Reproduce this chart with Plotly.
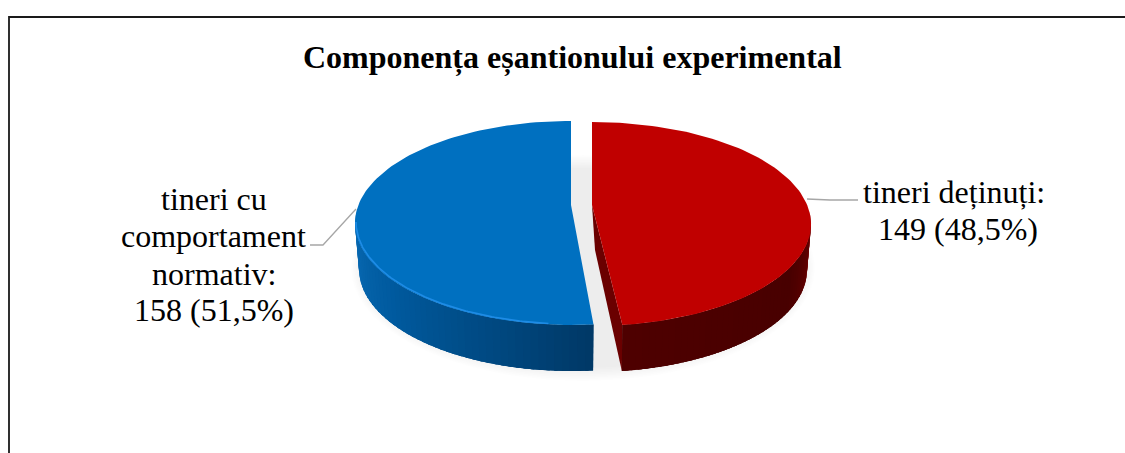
import numpy as np
import plotly.graph_objects as go

title = "Componența eșantionului experimental"
categories = [["tineri deținuți:"], ["tineri cu", "comportament", "normativ:"]]
values = [149, 158]
pct_labels = ["48,5%", "51,5%"]
top_colors = ["#C00000", "#0070C0"]

W, H = 1125, 453
RX, RY, DEPTH, SHRINK = 218, 102, 46, 4


def lerp_stops(t, stops):
    ts = [s[0] for s in stops]
    return tuple(int(round(np.interp(t, ts, [s[1][i] for s in stops]))) for i in range(3))


def arc(cx, cy, rx, ry, a0, a1, n=120):
    th = np.radians(np.linspace(a0, a1, n))
    return cx + rx * np.sin(th), cy - ry * np.cos(th)


def poly(xs, ys, color):
    return go.Scatter(x=list(xs) + [xs[0]], y=list(ys) + [ys[0]], mode="lines", fill="toself",
                      fillcolor=color, line=dict(color=color, width=0), hoverinfo="skip",
                      showlegend=False)


def line(xs, ys, color, width):
    return go.Scatter(x=list(xs), y=list(ys), mode="lines", line=dict(color=color, width=width),
                      hoverinfo="skip", showlegend=False)


def side(cx, cy, rx, a0, a1, stops, n=48, overlap=3.0, forward=True):
    """Side wall as overlapping quads, so no seams appear between them."""
    out = []
    edges = np.linspace(a0, a1, n + 1)
    pairs = list(zip(edges[:-1], edges[1:]))
    if not forward:
        pairs = pairs[::-1]
    for a, b in pairs:
        a2, b2 = (a, min(b + overlap, a1)) if forward else (max(a - overlap, a0), b)
        tx, ty = arc(cx, cy, rx, RY, a2, b2, 6)
        bx, by = arc(cx, cy + DEPTH, rx - SHRINK, RY, b2, a2, 6)
        c = lerp_stops((a + b) / 2, stops)
        out.append(poly(np.r_[tx, bx], np.r_[ty, by], "rgb(%d,%d,%d)" % c))
    return out


total = sum(values)
red_sweep = values[0] / total * 360 - 2.7   # perspective narrows the near wedge
blue_sweep = values[1] / total * 360 + 0.7
fig = go.Figure()

# soft shadow below the disc
for k in range(9):
    sx, sy = arc(583, 268, 232 - k * 1.6, 113 - k * 1.6, 0, 360, 120)
    fig.add_trace(poly(sx, sy, "rgba(0,0,0,0.006)"))

# blue slice
bcx, bcy, bax, bay = 571, 223, 571, 205
a_start = 360 - blue_sweep
fig.add_traces(side(bcx, bcy, RX - 2, a_start, 275,
                    [(174, (0, 56, 102)), (200, (0, 72, 128)), (235, (0, 90, 158)), (275, (10, 108, 182))],
                    forward=False))
x, y = arc(bcx, bcy, RX - 2, RY, a_start, 360)
fig.add_trace(poly(np.r_[x, bax], np.r_[y, bay], top_colors[1]))
x, y = arc(bcx, bcy - 1, RX - 3, RY, a_start + 12, 270)
fig.add_trace(line(x, y, "#1E8CE6", 1.6))

# red slice
rcx, rcy, rax, ray = 592, 224, 592, 205
a_end = red_sweep
ex, ey = arc(rcx, rcy, RX + 1, RY, a_end, a_end, 1)
bx2, by2 = arc(rcx, rcy + DEPTH, RX + 1 - SHRINK, RY, a_end, a_end, 1)
wall_x = [rax, rax + 3, bx2[0], ex[0]]
wall_y = [ray, ray + 45, by2[0], ey[0]]
fig.add_trace(poly(wall_x, wall_y, "#6A0000"))
fig.add_traces(side(rcx, rcy, RX + 1, 85, a_end,
                    [(85, (135, 0, 0)), (98, (95, 0, 0)), (115, (72, 0, 0)), (172, (78, 0, 0))]))
x, y = arc(rcx, rcy, RX + 1, RY, 0, a_end)
fig.add_trace(poly(np.r_[x, rax], np.r_[y, ray], top_colors[0]))

# leader lines
fig.add_trace(line([807, 830, 858], [199, 200, 200], "#A6A6A6", 1.3))
fig.add_trace(line([310, 323, 356], [245, 245, 209], "#A6A6A6", 1.3))

# frame: top and left edges only
fig.add_trace(line([9, 9, W], [H, 17, 17], "#1A1A1A", 1.8))

FONT = "Liberation Serif"
fig.add_annotation(x=572.5, y=57, text="<b>%s</b>" % title, showarrow=False,
                   font=dict(family=FONT, size=32, color="#000000"))


def text_line(x, y, s):
    fig.add_annotation(x=x, y=y, text=s, showarrow=False, font=dict(family=FONT, size=32, color="#000000"))


right_lines = categories[0] + ["%d (%s)" % (values[0], pct_labels[0])]
for s, px, py in zip(right_lines, [954, 958], [192, 229]):
    text_line(px, py, s)
left_lines = categories[1] + ["%d (%s)" % (values[1], pct_labels[1])]
for s, px, py in zip(left_lines, [214, 213, 214, 214], [199, 236, 274, 310]):
    text_line(px, py, s)

fig.update_layout(width=W, height=H, autosize=False, margin=dict(l=0, r=0, t=0, b=0),
                  paper_bgcolor="white", plot_bgcolor="white", showlegend=False,
                  xaxis=dict(range=[0, W], visible=False, fixedrange=True),
                  yaxis=dict(range=[H, 0], visible=False, fixedrange=True))

fig.write_html("out.html", config={"displayModeBar": False},
               post_script="document.body.style.margin='0';document.body.style.overflow='hidden';")
